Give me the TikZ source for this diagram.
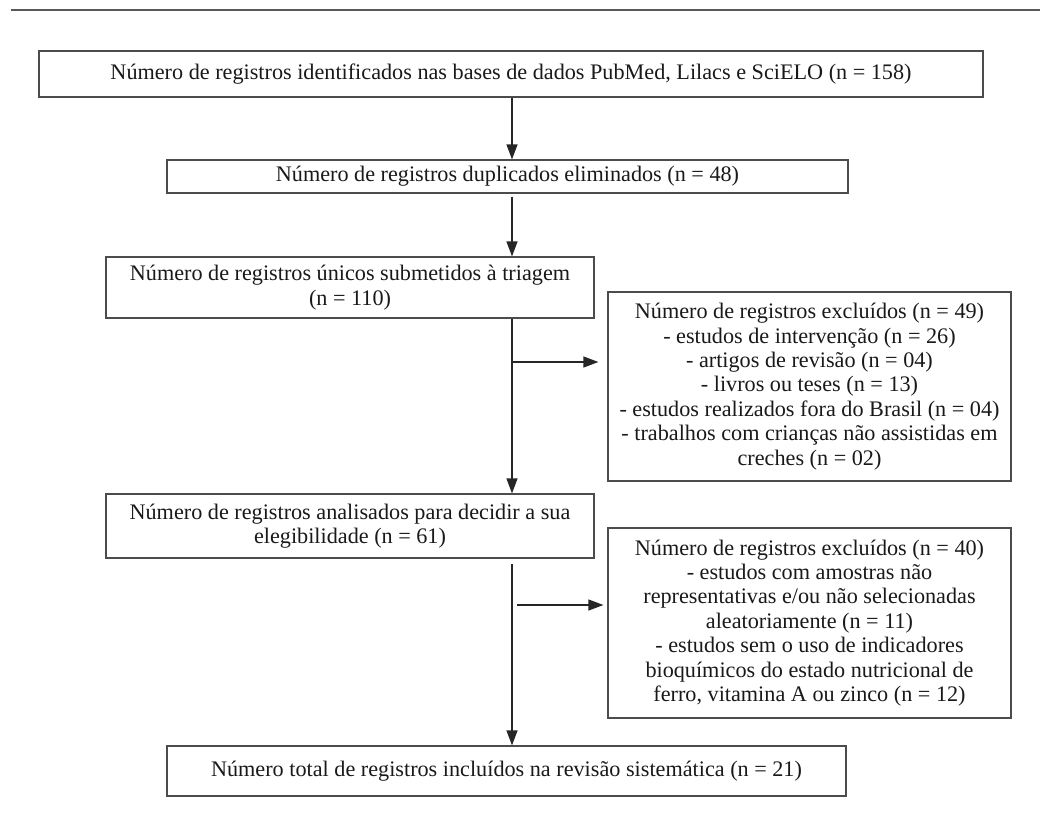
\documentclass[tikz,border=0pt]{standalone}
\usepackage{fontspec}
\setmainfont{Liberation Serif}
\usepackage{tikz}
\usetikzlibrary{arrows.meta, calc, positioning}

\begin{document}
\begin{tikzpicture}[
    x=0.5pt, y=-0.5pt,
    font=\fontsize{11.1}{12.2}\selectfont,
    box/.style={rectangle, draw=black!70, line width=0.6pt, text=black!90,
                align=center, inner sep=2pt},
    arrow/.style={draw=black!85, line width=0.6pt, -{Triangle[length=7.5pt, width=5.5pt]}}
]
\useasboundingbox (0,0) rectangle (1040,814);

% rule at the top of the figure
\draw[black!65, line width=0.6pt] (11,10) -- (1040,10);

\node (ident) [box, minimum width=472pt, minimum height=23pt] at (511,74)
    {Número de registros identificados nas bases de dados PubMed, Lilacs e SciELO (n = 158)};
\node (dup) [box, minimum width=340.5pt, minimum height=16.5pt] at (507.5,176.5)
    {Número de registros duplicados eliminados (n = 48)};
\node (screen) [box, minimum width=244pt, minimum height=30.5pt] at (350,287.5)
    {Número de registros únicos submetidos à triagem\\(n = 110)};
\node (excl1) [box, minimum width=201.5pt, minimum height=94.5pt] at (809.5,386.5)
    {Número de registros excluídos (n = 49)\\
     - estudos de intervenção (n = 26)\\
     - artigos de revisão (n = 04)\\
     - livros ou teses (n = 13)\\
     - estudos realizados fora do Brasil (n = 04)\\
     - trabalhos com crianças não assistidas em\\
     creches (n = 02)};
\node (elig) [box, minimum width=244pt, minimum height=32pt] at (350,526)
    {Número de registros analisados para decidir a sua\\elegibilidade (n = 61)};
\node (excl2) [box, minimum width=201.5pt, minimum height=95pt] at (809.5,623)
    {Número de registros excluídos (n = 40)\\
     - estudos com amostras não\\
     representativas e/ou não selecionadas\\
     aleatoriamente (n = 11)\\
     - estudos sem o uso de indicadores\\
     bioquímicos do estado nutricional de\\
     ferro, vitamina A ou zinco (n = 12)};
\node (incl) [box, minimum width=339.5pt, minimum height=25pt] at (506.5,771)
    {Número total de registros incluídos na revisão sistemática (n = 21)};

% vertical spine and branch points
\coordinate (spine) at (512,0);
\coordinate (branch1) at (512,362);
\coordinate (branch2) at (512,605);

\draw [arrow] (spine |- ident.south) -- (spine |- dup.north);
\draw [arrow] (spine |- dup.south) ++(0,3) -- (spine |- screen.north);
\draw [arrow] (spine |- screen.south) -- (spine |- elig.north);
\draw [arrow] (spine |- elig.south) ++(0,5) -- (spine |- incl.north);
\draw [arrow, shorten >=4.5pt] (branch1) -- (branch1 -| excl1.west);
\draw [arrow, shorten <=2.5pt, shorten >=2pt] (branch2) -- (branch2 -| excl2.west);

\end{tikzpicture}
\end{document}
